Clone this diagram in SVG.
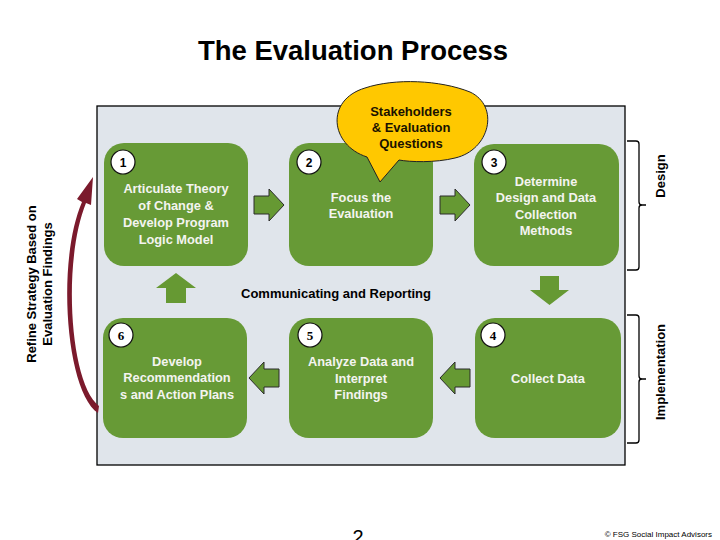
<svg xmlns="http://www.w3.org/2000/svg" width="720" height="540" viewBox="0 0 720 540">
<defs>
<style>
.t{font-family:"Liberation Sans",Arial,sans-serif;font-weight:bold}
.box{fill:#679a36}
.bt{font-family:"Liberation Sans",Arial,sans-serif;font-weight:bold;font-size:12.8px;fill:#f4f4f0;text-anchor:middle}
.num{fill:#fff;stroke:#111;stroke-width:1.2}
.nt{font-family:"Liberation Sans",Arial,sans-serif;font-weight:bold;font-size:12px;fill:#000;text-anchor:middle}
.ns{font-family:"Liberation Serif","Times New Roman",serif;font-weight:bold;font-size:13px;fill:#000;text-anchor:middle}
.arr{fill:#669933;stroke:#2b2b2b;stroke-width:1}
.arr2{fill:#669933}
.br{fill:none;stroke:#000;stroke-width:1.3}
</style>
</defs>
<rect width="720" height="540" fill="#fff"/>
<text class="t" x="353" y="60" font-size="27.5" text-anchor="middle" fill="#000">The Evaluation Process</text>

<g id="panel"><rect x="97" y="106" width="528" height="359" fill="#e0e5eb" stroke="#000" stroke-width="1.3"/></g>

<g id="connectors">
<path class="arr" d="M254 196 H269 V189 L284 205 L269 221 V214 H254 Z"/>
<path class="arr" d="M440 196 H455 V189 L470 205 L455 221 V214 H440 Z"/>
<path class="arr2" d="M540 276 H559 V290 H569 L549.5 305 L530 290 H540 Z"/>
<path class="arr2" d="M166 303 H186 V288 H196 L176 273 L156 288 H166 Z"/>
<path class="arr" d="M279 369 H264 V362 L249 378 L264 394 V387 H279 Z"/>
<path class="arr" d="M470 369 H455 V362 L440 378 L455 394 V387 H470 Z"/>
<path d="M98 413 C66 392 56 262 82 202 L77 199 L93 177 L91 205 L86 203 C62 262 70 385 99 406 Z" fill="#7b1a2c"/>
</g>

<g id="node1">
<rect class="box" x="104" y="143" width="144" height="123" rx="20"/>
<circle class="num" cx="123" cy="162" r="12"/><text class="nt" x="123" y="166.5">1</text>
<text class="bt" x="176" y="192.5">Articulate Theory</text>
<text class="bt" x="176" y="209.5">of Change &amp;</text>
<text class="bt" x="176" y="226.5">Develop Program</text>
<text class="bt" x="176" y="243.5">Logic Model</text>
</g>
<g id="node2">
<rect class="box" x="289" y="143" width="144" height="123" rx="20"/>
<circle class="num" cx="309" cy="162" r="12"/><text class="nt" x="309" y="166.5">2</text>
<text class="bt" x="361" y="201.5">Focus the</text>
<text class="bt" x="361" y="217.5">Evaluation</text>
</g>
<g id="node3">
<rect class="box" x="474" y="144" width="145" height="122" rx="20"/>
<circle class="num" cx="494" cy="162" r="12"/><text class="nt" x="494" y="166.5">3</text>
<text class="bt" x="546" y="185.5">Determine</text>
<text class="bt" x="546" y="201.5">Design and Data</text>
<text class="bt" x="546" y="218.5">Collection</text>
<text class="bt" x="546" y="234.5">Methods</text>
</g>
<g id="node4">
<rect class="box" x="475" y="318" width="146" height="120" rx="20"/>
<circle class="num" cx="493" cy="335" r="12"/><text class="ns" x="493" y="339.5">4</text>
<text class="bt" x="548" y="382.5">Collect Data</text>
</g>
<g id="node5">
<rect class="box" x="289" y="318" width="144" height="120" rx="20"/>
<circle class="num" cx="310" cy="335" r="12"/><text class="ns" x="310" y="339.5">5</text>
<text class="bt" x="361" y="365.5">Analyze Data and</text>
<text class="bt" x="361" y="382.5">Interpret</text>
<text class="bt" x="361" y="398.5">Findings</text>
</g>
<g id="node6">
<rect class="box" x="103" y="318" width="144" height="120" rx="20"/>
<circle class="num" cx="121" cy="335" r="12"/><text class="ns" x="121" y="339.5">6</text>
<text class="bt" x="177" y="365.5">Develop</text>
<text class="bt" x="177" y="381.5">Recommendation</text>
<text class="bt" x="177" y="398.5">s and Action Plans</text>
</g>

<g id="callout">
<path d="M367 157 C330 145 325 100 365 88 C395 78 440 80 470 92 C500 106 490 150 455 158 C435 163 410 162 399 160 L380 182 Z" fill="#ffc800" stroke="#222" stroke-width="1"/>
<text class="t" x="411" y="115.5" font-size="13" text-anchor="middle" fill="#1a1200">Stakeholders</text>
<text class="t" x="411" y="131.5" font-size="13" text-anchor="middle" fill="#1a1200">&amp; Evaluation</text>
<text class="t" x="411" y="147.5" font-size="13" text-anchor="middle" fill="#1a1200">Questions</text>
</g>

<text class="t" x="336" y="297.5" font-size="13" text-anchor="middle" fill="#000">Communicating and Reporting</text>

<g id="refine">
<text class="t" font-size="13" text-anchor="middle" fill="#000" transform="translate(36,284) rotate(-90)">Refine Strategy Based on</text>
<text class="t" font-size="13" text-anchor="middle" fill="#000" transform="translate(52,284) rotate(-90)">Evaluation Findings</text>
</g>

<g id="design">
<path class="br" d="M627 141 H636 Q639 141 639 144 V202 Q639 205 642 205 H646 M642 205 Q639 205 639 208 V267 Q639 270 636 270 H627"/>
<text class="t" font-size="13" text-anchor="middle" fill="#000" transform="translate(665,176) rotate(-90)">Design</text>
</g>
<g id="implementation">
<path class="br" d="M627 315 H636 Q639 315 639 318 V376 Q639 379 642 379 H646 M642 379 Q639 379 639 382 V440 Q639 443 636 443 H627"/>
<text class="t" font-size="13" text-anchor="middle" fill="#000" transform="translate(665,372) rotate(-90)">Implementation</text>
</g>

<text x="358" y="544" font-family="Liberation Sans,Arial,sans-serif" font-size="20" text-anchor="middle" fill="#000">2</text>
<text x="712" y="537" font-family="Liberation Sans,Arial,sans-serif" font-size="8" text-anchor="end" fill="#000">© FSG Social Impact Advisors</text>
</svg>
